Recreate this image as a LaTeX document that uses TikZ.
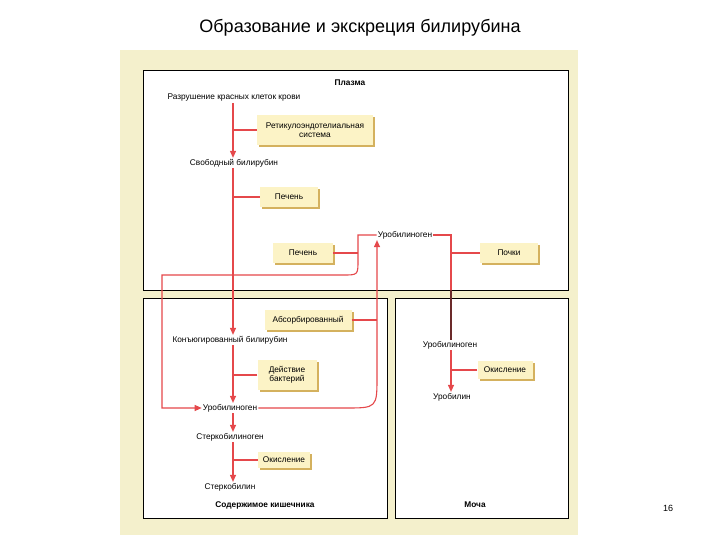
\documentclass[tikz,border=0pt]{standalone}
\usepackage{fontspec}
\setmainfont{Liberation Sans}
\usetikzlibrary{arrows.meta,shadows}
\definecolor{rd}{HTML}{E5484B}
\definecolor{dk}{HTML}{6B2A2A}
\definecolor{pan}{HTML}{F4F0CC}
\definecolor{bx}{HTML}{FCF3C6}
\definecolor{sh}{HTML}{D4B15E}
\begin{document}
\begin{tikzpicture}[x=1pt,y=-1pt,
 lab/.style={font=\fontsize{8.3}{9.5}\selectfont,inner sep=1pt},
 hd/.style={font=\bfseries\fontsize{8.3}{9.5}\selectfont,inner sep=1pt},
 yb/.style={font=\fontsize{8.3}{9.5}\selectfont,align=center,fill=bx,inner sep=1pt,
   drop shadow={shadow xshift=2pt,shadow yshift=-2pt,fill=sh,opacity=1}},
 ln/.style={rd,line width=1.1pt},
 ar/.style={rd,line width=1.1pt,-{Triangle[length=7pt,width=6pt]}}]
\useasboundingbox (0,0) rectangle (720,540);
\node (title) at (360,28) {\fontsize{18}{21}\selectfont Образование и экскреция билирубина};
\fill[pan] (120,50) rectangle (578,535);
\draw[black,line width=0.8pt,fill=white] (143,70) rectangle (568,290);
\draw[black,line width=0.8pt,fill=white] (143,298) rectangle (387,518);
\draw[black,line width=0.8pt,fill=white] (395,298) rectangle (568,518);
\node[hd] (pl) at (350,83) {Плазма};
\node[hd] (ki) at (265,505) {Содержимое кишечника};
\node[hd] (mo) at (475,505) {Моча};
\node[lab] (raz) at (234,98) {Разрушение красных клеток крови};
\node[lab] (svb) at (234,163) {Свободный билирубин};
\node[lab] (kon) at (230,340) {Конъюгированный билирубин};
\node[lab] (uri) at (230,408) {Уробилиноген};
\node[lab] (ster) at (230,437) {Стеркобилиноген};
\node[lab] (st) at (230,487) {Стеркобилин};
\node[lab] (upl) at (405,235) {Уробилиноген};
\node[lab] (umo) at (450,345) {Уробилиноген};
\node[lab] (ubl) at (452,397) {Уробилин};
\node[yb,minimum width=116pt,minimum height=30pt] (ret) at (315,130) {Ретикулоэндотелиальная\\система};
\node[yb,minimum width=58pt,minimum height=20pt] (pe1) at (289,197) {Печень};
\node[yb,minimum width=60pt,minimum height=20pt] (pe2) at (303,253) {Печень};
\node[yb,minimum width=58pt,minimum height=20pt] (poc) at (509,253) {Почки};
\node[yb,minimum width=87pt,minimum height=20pt] (abs) at (308,320) {Абсорбированный};
\node[yb,minimum width=59pt,minimum height=30pt] (bak) at (287,375) {Действие\\бактерий};
\node[yb,minimum width=52pt,minimum height=16pt] (ok1) at (284,460) {Окисление};
\node[yb,minimum width=55pt,minimum height=18pt] (ok2) at (505,370) {Окисление};
% main chain
\draw[ar] (raz.south -| 233,0) -- (svb.north -| 233,0);
\draw[ln] (ret.west) -- (233,130);
\draw[ar] (svb.south -| 233,0) -- (kon.north -| 233,0);
\draw[ln] (pe1.west) -- (233,197);
\draw[ar] (kon.south -| 233,0) -- (uri.north -| 233,0);
\draw[ln] (bak.west) -- (233,375);
\draw[ar] (uri.south -| 233,0) -- (ster.north -| 233,0);
\draw[ar] (ster.south -| 233,0) -- (st.north -| 233,0);
\draw[ln] (ok1.west) -- (233,460);
% enterohepatic
\draw[ar] (uri.east) -- (345,408) .. controls (377,408) .. (377,376) -- (377,245) -- (upl.south -| 377,0);
\draw[ln] (abs.east) -- (377,320);
\draw[ar] (upl.west) -- (358,235) -- (358,260) .. controls (358,275) .. (343,275) -- (162,275) -- (162,408) -- (uri.west);
\draw[ln] (pe2.east) -- (358,253);
% kidney
\draw[ln] (upl.east) -- (451,235) -- (451,290);
\draw[dk,line width=1.1pt] (451,290) -- (umo.north -| 451,0);
\draw[ln] (poc.west) -- (451,253);
\draw[ar] (umo.south -| 451,0) -- (ubl.north -| 451,0);
\draw[ln] (ok2.west) -- (451,370);
\node[font=\fontsize{9}{10}\selectfont] (pg) at (668,508) {16};
\end{tikzpicture}
\end{document}
